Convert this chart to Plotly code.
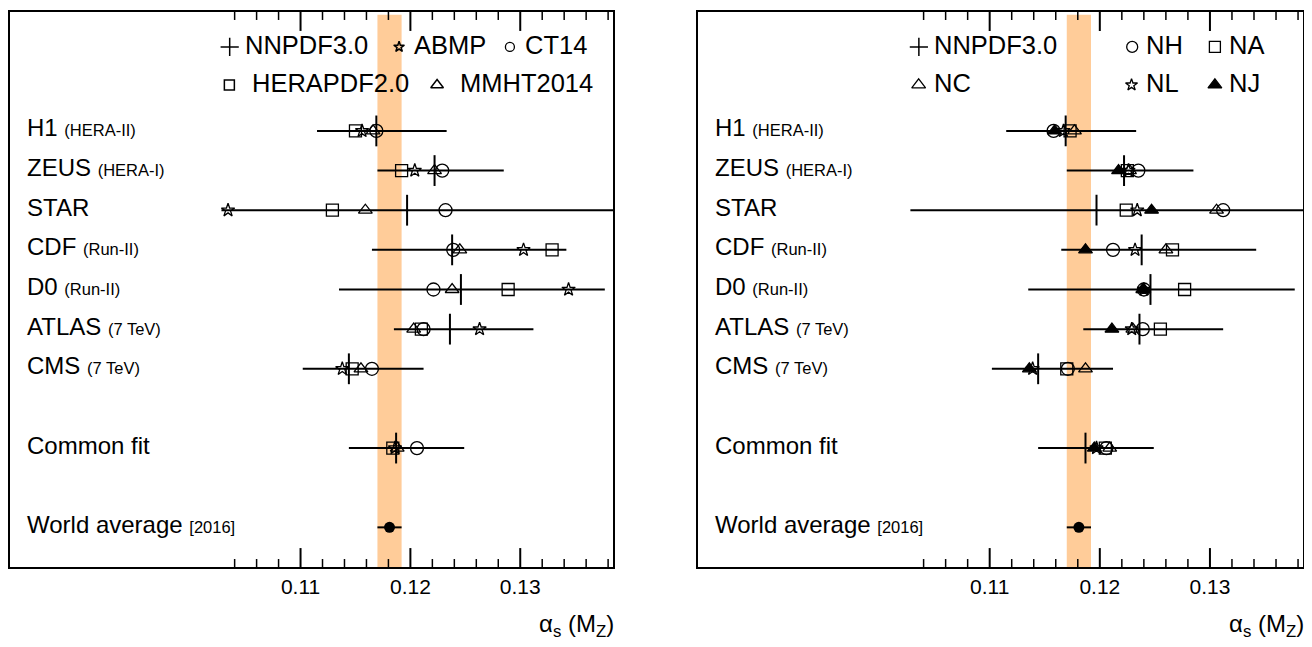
import plotly.graph_objects as go

# ------------------------------------------------------------------ data
experiments = ["H1", "ZEUS", "STAR", "CDF", "D0", "ATLAS", "CMS", "Common fit"]
experiment_notes = ["(HERA-II)", "(HERA-I)", "", "(Run-II)", "(Run-II)", "(7 TeV)", "(7 TeV)", ""]
world_label = "World average"
world_note = "[2016]"

# NNPDF3.0 (central value and 1-sigma interval)
nnpdf_central = [0.1169, 0.1222, 0.1197, 0.1238, 0.1246, 0.1236, 0.1144, 0.1187]
nnpdf_low = [0.1115, 0.1170, 0.1028, 0.1165, 0.1135, 0.1185, 0.1102, 0.1144]
nnpdf_high = [0.1233, 0.1285, 0.1400, 0.1342, 0.1377, 0.1312, 0.1212, 0.1249]

# left panel: other PDF sets
abmp = [0.1156, 0.1204, 0.1034, 0.1303, 0.1344, 0.1263, 0.1138, 0.1186]
ct14 = [0.1169, 0.1229, 0.1232, 0.1239, 0.1221, 0.1212, 0.1165, 0.1206]
herapdf = [0.1150, 0.1192, 0.1129, 0.1329, 0.1289, 0.1210, 0.1147, 0.1184]
mmht = [0.1166, 0.1222, 0.1159, 0.1245, 0.1238, 0.1203, 0.1155, 0.1188]

# right panel: NNPDF3.0 variants
nh = [0.1158, 0.1235, 0.1312, 0.1212, 0.1240, 0.1239, 0.1171, 0.1206]
na = [0.1173, 0.1225, 0.1224, 0.1266, 0.1277, 0.1255, 0.1170, 0.1205]
nc = [0.1177, 0.1227, 0.1306, 0.1260, 0.1240, 0.1230, 0.1187, 0.1209]
nl = [0.1167, 0.1226, 0.1234, 0.1232, 0.1240, 0.1229, 0.1139, 0.1197]
nj = [0.1159, 0.1217, 0.1247, 0.1187, 0.1239, 0.1211, 0.1136, 0.1195]

world_avg = 0.1181
world_avg_err = 0.0011

major_ticks = [0.11, 0.12, 0.13]
major_tick_labels = ["0.11", "0.12", "0.13"]
minor_ticks = [0.104, 0.106, 0.108, 0.112, 0.114, 0.116, 0.118, 0.122, 0.124,
               0.126, 0.128, 0.132, 0.134, 0.136, 0.138]

# ------------------------------------------------------------------ layout constants
FONT = "Liberation Sans, Arial, Helvetica, sans-serif"
X_RANGE = [0.08355, 0.13845]
Y_RANGE = [11, -3]
ROW_SLOT = {"H1": 0, "ZEUS": 1, "STAR": 2, "CDF": 3, "D0": 4, "ATLAS": 5,
            "CMS": 6, "Common fit": 8, "World average": 10}
LABEL_X = 0.0849
BAND_COLOR = "#FFCC99"
LEG_ROW1, LEG_ROW2 = -2.12, -1.16
LEG_TEXT_SHIFT = -3
DOMAINS = {1: [0, 0.4664], 2: [0.5324, 1]}
FIG_W, FIG_H = 1304, 639
MARGIN = dict(l=2, r=9, t=2, b=80)
PLOT_H = FIG_H - MARGIN["t"] - MARGIN["b"]
MAJOR_LEN, MINOR_LEN = 19, 8

rows = [ROW_SLOT[e] for e in experiments]

fig = go.Figure()


def axis_names(panel):
    return ("x", "y") if panel == 1 else ("x2", "y2")


def add_series(panel, values, symbol, size):
    xa, ya = axis_names(panel)
    fig.add_trace(go.Scatter(
        x=values, y=rows, mode="markers", xaxis=xa, yaxis=ya, showlegend=False,
        hoverinfo="x",
        marker=dict(symbol=symbol, size=size, color="black",
                    line=dict(color="black", width=1.3)),
    ))


def add_nnpdf(panel):
    xa, ya = axis_names(panel)
    fig.add_trace(go.Scatter(
        x=nnpdf_central, y=rows, mode="markers", xaxis=xa, yaxis=ya,
        showlegend=False, hoverinfo="x",
        marker=dict(symbol="line-ns-open", size=22, color="black",
                    line=dict(color="black", width=2)),
        error_x=dict(type="data", symmetric=False,
                     array=[h - c for h, c in zip(nnpdf_high, nnpdf_central)],
                     arrayminus=[c - l for c, l in zip(nnpdf_central, nnpdf_low)],
                     thickness=2, width=0, color="black"),
    ))


def add_world(panel):
    xa, ya = axis_names(panel)
    fig.add_trace(go.Scatter(
        x=[world_avg], y=[ROW_SLOT[world_label]], mode="markers", xaxis=xa, yaxis=ya,
        showlegend=False, hoverinfo="x",
        marker=dict(symbol="circle", size=11, color="black"),
        error_x=dict(type="data", array=[world_avg_err], thickness=2, width=0,
                     color="black"),
    ))


def add_key(panel, kx, ky, symbol, size, lw, tx, text):
    xa, ya = axis_names(panel)
    fig.add_trace(go.Scatter(
        x=[kx], y=[ky], mode="markers", xaxis=xa, yaxis=ya, showlegend=False,
        hoverinfo="skip",
        marker=dict(symbol=symbol, size=size, color="black",
                    line=dict(color="black", width=lw)),
    ))
    fig.add_annotation(x=tx, y=ky, xref=xa, yref=ya, text=text, showarrow=False,
                       xanchor="left", yanchor="middle", yshift=2,
                       xshift=LEG_TEXT_SHIFT,
                       font=dict(family=FONT, size=25.5, color="black"))


def add_tick(xa, ya, value, at_top, length, width):
    # tick mark pointing into the frame, length given in pixels
    frac = length / PLOT_H
    y0, y1 = (1, 1 - frac) if at_top else (0, frac)
    fig.add_shape(type="line", xref=xa, yref=f"{ya} domain",
                  x0=value, x1=value, y0=y0, y1=y1,
                  line=dict(color="black", width=width), layer="above")


for panel in (1, 2):
    xa, ya = axis_names(panel)
    # world-average band
    fig.add_shape(type="rect", xref=xa, yref=f"{ya} domain",
                  x0=world_avg - world_avg_err, x1=world_avg + world_avg_err,
                  y0=0, y1=0.995, fillcolor=BAND_COLOR, line=dict(width=0),
                  layer="below")
    # tick marks on both frame edges
    for v in major_ticks:
        add_tick(xa, ya, v, True, MAJOR_LEN, 2)
        add_tick(xa, ya, v, False, MAJOR_LEN, 2)
    for v in minor_ticks:
        add_tick(xa, ya, v, True, MINOR_LEN, 1.5)
        add_tick(xa, ya, v, False, MINOR_LEN, 1.5)
    # row labels
    for name, note in zip(experiments + [world_label], experiment_notes + [world_note]):
        txt = name if not note else f"{name} <span style='font-size:16.5px'>{note}</span>"
        fig.add_annotation(x=LABEL_X, y=ROW_SLOT[name], xref=xa, yref=ya, text=txt,
                           showarrow=False, xanchor="left", yanchor="middle", yshift=3,
                           font=dict(family=FONT, size=24, color="black"))
    # axis title
    fig.add_annotation(x=1, y=-0.105, xref=f"{xa} domain", yref="paper",
                       text="α<sub>s</sub> (M<sub>Z</sub>)", showarrow=False,
                       xanchor="right", yanchor="middle", xshift=3,
                       font=dict(family=FONT, size=24, color="black"))

# left panel series
add_series(1, abmp, "star-open", 10)
add_series(1, ct14, "circle-open", 13)
add_series(1, herapdf, "square-open", 12)
add_series(1, mmht, "triangle-up-open", 12)
add_nnpdf(1)
add_world(1)

# right panel series
add_series(2, nh, "circle-open", 13)
add_series(2, na, "square-open", 12)
add_series(2, nc, "triangle-up-open", 12)
add_series(2, nl, "star-open", 10)
add_series(2, nj, "triangle-up", 12)
add_nnpdf(2)
add_world(2)

# legends (keys + text)
add_key(1, 0.10355, LEG_ROW1, "cross-thin-open", 13, 1.5, 0.1050, "NNPDF3.0")
add_key(1, 0.11897, LEG_ROW1, "star-open", 8, 1.5, 0.1204, "ABMP")
add_key(1, 0.12906, LEG_ROW1, "circle-open", 9, 1.3, 0.1305, "CT14")
add_key(1, 0.10352, LEG_ROW2, "square-open", 10, 1.5, 0.1057, "HERAPDF2.0")
add_key(1, 0.12243, LEG_ROW2, "triangle-up-open", 11, 1.5, 0.1246, "MMHT2014")

add_key(2, 0.10357, LEG_ROW1, "cross-thin-open", 13, 1.5, 0.1050, "NNPDF3.0")
add_key(2, 0.12294, LEG_ROW1, "circle-open", 11, 1.3, 0.1243, "NH")
add_key(2, 0.13045, LEG_ROW1, "square-open", 11, 1.3, 0.1318, "NA")
add_key(2, 0.10355, LEG_ROW2, "triangle-up-open", 12, 1.3, 0.1050, "NC")
add_key(2, 0.12288, LEG_ROW2, "star-open", 9, 1.3, 0.1243, "NL")
add_key(2, 0.13045, LEG_ROW2, "triangle-up", 12, 1.3, 0.1318, "NJ")

# ------------------------------------------------------------------ axes
xaxis_style = dict(
    range=X_RANGE, showline=True, linewidth=2, linecolor="black", mirror=True,
    ticks="", tickmode="array", tickvals=major_ticks, ticktext=major_tick_labels,
    tickfont=dict(family=FONT, size=21, color="black"), ticklabelstandoff=0,
    showgrid=False, zeroline=False, fixedrange=True,
)
yaxis_style = dict(
    range=Y_RANGE, showline=True, linewidth=2, linecolor="black", mirror=True,
    showticklabels=False, ticks="", showgrid=False, zeroline=False, fixedrange=True,
)

# the page body adds an 8 px margin, so the figure is sized to fit the window
fig.update_layout(
    width=FIG_W, height=FIG_H,
    margin=MARGIN,
    paper_bgcolor="white", plot_bgcolor="white",
    font=dict(family=FONT, color="black"),
    showlegend=False,
    xaxis=dict(domain=DOMAINS[1], anchor="y", **xaxis_style),
    yaxis=dict(domain=[0, 1], anchor="x", **yaxis_style),
    xaxis2=dict(domain=DOMAINS[2], anchor="y2", **xaxis_style),
    yaxis2=dict(domain=[0, 1], anchor="x2", **yaxis_style),
)

fig.write_html("out.html")
